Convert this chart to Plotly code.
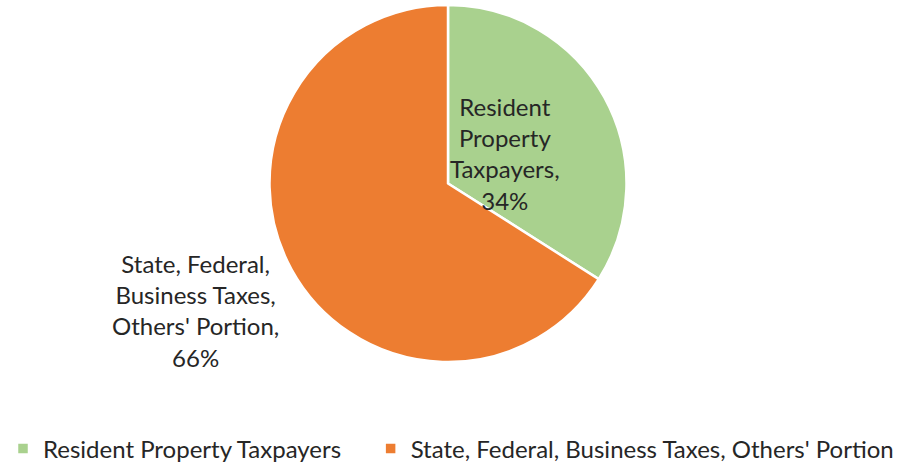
import plotly.graph_objects as go

labels = ["Resident Property Taxpayers", "State, Federal, Business Taxes, Others' Portion"]
values = [34, 66]
colors = ["#A9D18E", "#ED7D31"]
label_lines = [["Resident", "Property", "Taxpayers,"], ["State, Federal,", "Business Taxes,", "Others' Portion,"]]

W, H = 907, 463
ml, mr, mt, mb = 0, 0, 5, 101
pw, ph = W - ml - mr, H - mt - mb

legend_labels = [labels[0] + "&nbsp;" * 4, labels[1]]

fig = go.Figure(go.Pie(
    labels=legend_labels, values=values, sort=False, direction="clockwise", rotation=0,
    domain=dict(x=[0, 896 / 907], y=[0, 1]),
    marker=dict(colors=colors, line=dict(color="white", width=2.5)),
    textinfo="none", customdata=labels,
    hovertemplate="%{customdata}: %{percent}<extra></extra>",
))

def px2paper(x, y):
    return (x - ml) / pw, (H - mb - y) / ph

font = dict(family="Lato, Carlito, Calibri, sans-serif", size=24, color="#262626")
positions = [(505, 153), (195, 310)]
for lines, v, (x, y) in zip(label_lines, values, positions):
    pct = round(100 * v / sum(values))
    txt = "<br>".join(lines + [f"{pct}%"])
    xp, yp = px2paper(x, y)
    fig.add_annotation(x=xp, y=yp, xref="paper", yref="paper", text=txt, showarrow=False,
                       font=font, align="center", xanchor="center", yanchor="middle")

fig.update_layout(
    width=W, height=H, margin=dict(l=ml, r=mr, t=mt, b=mb, autoexpand=False),
    paper_bgcolor="white", plot_bgcolor="white",
    showlegend=True,
    legend=dict(orientation="h", x=3 / pw, xanchor="left", y=(H - mb - 449) / ph, yanchor="middle",
                font=dict(family="Lato, Carlito, Calibri, sans-serif", size=24, color="#262626"),
                itemwidth=30, traceorder="normal"),
)
fig.write_html("out.html")
